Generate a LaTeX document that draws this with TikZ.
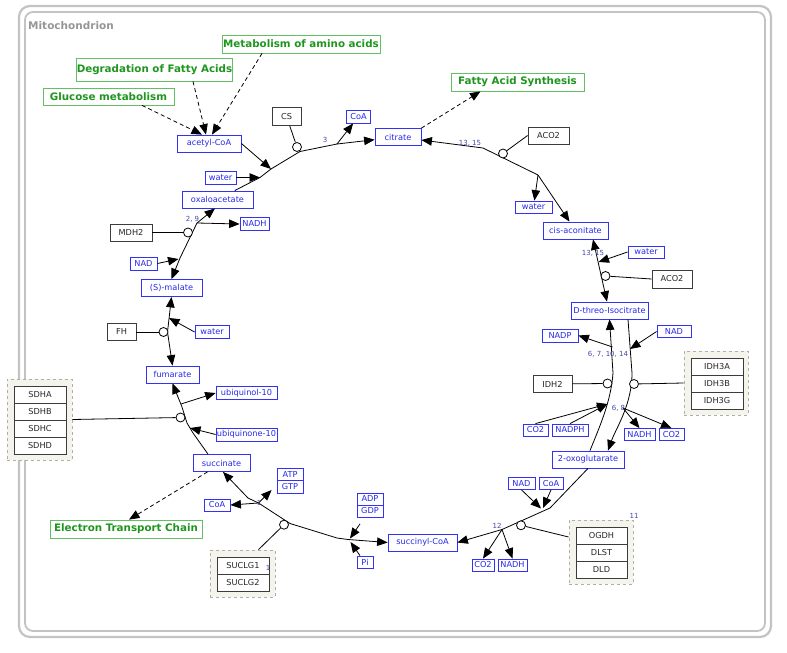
\documentclass[tikz,border=0pt]{standalone}
\usepackage{fontspec}
\setmainfont{DejaVu Sans}
\usetikzlibrary{arrows.meta}

\definecolor{metblue}{RGB}{40,40,235}
\definecolor{metborder}{RGB}{50,50,245}
\definecolor{genegray}{RGB}{60,60,60}
\definecolor{pwgreen}{RGB}{30,150,30}
\definecolor{pwborder}{RGB}{100,190,100}
\definecolor{grpfill}{RGB}{244,244,236}
\definecolor{grpborder}{RGB}{175,175,165}
\definecolor{framegray}{RGB}{195,195,195}
\definecolor{titlegray}{RGB}{150,150,150}
\definecolor{numblue}{RGB}{70,70,170}

\newcommand\lblfont{\fontsize{8.2}{9.5}\selectfont}
\newcommand\pwfont{\fontsize{10.3}{12}\selectfont\bfseries}
\newcommand\numfont{\fontsize{7}{8}\selectfont}

\tikzset{
  met/.style={draw=metborder, text=metblue, fill=white, inner sep=0pt, line width=0.8pt, font=\lblfont},
  gene/.style={draw=genegray, text=black!85, fill=white, inner sep=0pt, line width=0.8pt, font=\lblfont},
  pwbox/.style={draw=pwborder, text=pwgreen, fill=white, inner sep=0pt, line width=0.8pt, font=\pwfont},
  grp/.style={draw=grpborder, dashed, fill=grpfill, line width=0.8pt, inner sep=0pt},
  circ/.style={circle, draw, fill=white, inner sep=0pt, minimum size=9pt, line width=0.8pt},
  num/.style={text=numblue, font=\numfont, inner sep=0pt},
  conn/.style={line width=0.8pt, black},
  pwlink/.style={conn, dash pattern=on 4pt off 3pt},
}

\begin{document}
\begin{tikzpicture}[x=1pt, y=-1pt, >={Triangle[length=10.5pt,width=8.5pt]}]
\useasboundingbox (0,0) rectangle (787,653);

% compartment frame
\draw[framegray, line width=2.2pt, rounded corners=11pt] (19,6) rectangle (771,637);
\draw[framegray, line width=1.8pt, rounded corners=8pt] (25,12) rectangle (765,631);
\node[anchor=west, text=titlegray, font=\fontsize{10.5}{12}\selectfont\bfseries, inner sep=0pt] (title) at (28,25.5) {Mitochondrion};

% linked pathways
\node[pwbox, minimum width=158pt, minimum height=18pt] (amino) at (301,44) {Metabolism of amino acids};
\node[pwbox, minimum width=155pt, minimum height=23pt] (degr) at (154.5,69.5) {Degradation of Fatty Acids};
\node[pwbox, minimum width=131pt, minimum height=17pt] (glu) at (108.5,96.5) {Glucose metabolism};
\node[pwbox, minimum width=133pt, minimum height=18pt] (fas) at (517.5,82) {Fatty Acid Synthesis};
\node[pwbox, minimum width=152pt, minimum height=18pt] (etc) at (126,529) {Electron Transport Chain};

% metabolites
\node[met, minimum width=64pt, minimum height=17pt] (acoa) at (209,143.5) {acetyl-CoA};
\node[met, minimum width=24pt, minimum height=13pt] (coa1) at (358.5,116.5) {CoA};
\node[met, minimum width=46pt, minimum height=17pt] (cit) at (398,137) {citrate};
\node[met, minimum width=31pt, minimum height=13pt] (wat1) at (220.5,177.5) {water};
\node[met, minimum width=71pt, minimum height=17pt] (oaa) at (217.5,199.5) {oxaloacetate};
\node[met, minimum width=29pt, minimum height=13pt] (nadh1) at (254.5,224) {NADH};
\node[met, minimum width=27pt, minimum height=13pt] (nad1) at (143.5,263.5) {NAD};
\node[met, minimum width=61pt, minimum height=17pt] (mal) at (171.5,288) {(S)-malate};
\node[met, minimum width=34pt, minimum height=13pt] (wat2) at (212,332) {water};
\node[met, minimum width=53pt, minimum height=17pt] (fum) at (172.5,374.5) {fumarate};
\node[met, minimum width=61pt, minimum height=13pt] (ubol) at (246.5,393) {ubiquinol-10};
\node[met, minimum width=61pt, minimum height=13pt] (ubone) at (246.5,434.5) {ubiquinone-10};
\node[met, minimum width=57pt, minimum height=17pt] (succ) at (221.5,463) {succinate};
\node[met, minimum width=26pt, minimum height=12.5pt] (atp) at (290,474.5) {ATP};
\node[met, minimum width=26pt, minimum height=12.5pt] (gtp) at (290,487) {GTP};
\node[met, minimum width=26pt, minimum height=12pt] (coa2) at (217,505) {CoA};
\node[met, minimum width=26pt, minimum height=12pt] (adp) at (370,499) {ADP};
\node[met, minimum width=26pt, minimum height=12pt] (gdp) at (370,511) {GDP};
\node[met, minimum width=16pt, minimum height=12pt] (pi) at (365,562) {Pi};
\node[met, minimum width=69pt, minimum height=17pt] (sucoa) at (422.5,542.5) {succinyl-CoA};
\node[met, minimum width=22pt, minimum height=12pt] (co2d) at (483,565) {CO2};
\node[met, minimum width=29pt, minimum height=12pt] (nadh4) at (512.5,565) {NADH};
\node[met, minimum width=27pt, minimum height=12pt] (nad4) at (521.5,483.5) {NAD};
\node[met, minimum width=24pt, minimum height=12pt] (coa3) at (551,483.5) {CoA};
\node[met, minimum width=72pt, minimum height=17pt] (oxo) at (588,459.5) {2-oxoglutarate};
\node[met, minimum width=25pt, minimum height=12pt] (co2b) at (535.5,430) {CO2};
\node[met, minimum width=36pt, minimum height=12pt] (nadph) at (570,430) {NADPH};
\node[met, minimum width=31pt, minimum height=12pt] (nadh3) at (639.5,434.5) {NADH};
\node[met, minimum width=25pt, minimum height=12pt] (co2c) at (671.5,434.5) {CO2};
\node[met, minimum width=36pt, minimum height=13pt] (nadp) at (560,335.5) {NADP};
\node[met, minimum width=34pt, minimum height=12pt] (nad3) at (674,331.5) {NAD};
\node[met, minimum width=77pt, minimum height=17pt] (iso) at (609.5,310.5) {D-threo-Isocitrate};
\node[met, minimum width=36pt, minimum height=12pt] (wat3) at (646,252) {water};
\node[met, minimum width=65pt, minimum height=17pt] (cisa) at (575.5,230.5) {cis-aconitate};
\node[met, minimum width=37pt, minimum height=12pt] (wat4) at (533.5,207) {water};

% single gene products
\node[gene, minimum width=29pt, minimum height=18pt] (cs) at (286.5,116.5) {CS};
\node[gene, minimum width=41pt, minimum height=17pt] (aco2a) at (548.5,135.5) {ACO2};
\node[gene, minimum width=40pt, minimum height=18pt] (aco2b) at (672,279) {ACO2};
\node[gene, minimum width=42pt, minimum height=17pt] (mdh2) at (131,232.5) {MDH2};
\node[gene, minimum width=29pt, minimum height=17pt] (fh) at (121.5,332) {FH};
\node[gene, minimum width=39pt, minimum height=17pt] (idh2) at (552.5,384) {IDH2};

% enzyme complexes
\node[grp, minimum width=64pt, minimum height=64pt] (idhg) at (716,383) {};
\node[gene, minimum width=52pt, minimum height=17pt] (idh3a) at (717,367) {IDH3A};
\node[gene, minimum width=52pt, minimum height=17pt] (idh3b) at (717,384) {IDH3B};
\node[gene, minimum width=52pt, minimum height=17pt] (idh3g) at (717,401) {IDH3G};

\node[grp, minimum width=65pt, minimum height=81pt] (sdhg) at (39.5,419.5) {};
\node[gene, minimum width=52pt, minimum height=17pt] (sdha) at (40,394.5) {SDHA};
\node[gene, minimum width=52pt, minimum height=17pt] (sdhb) at (40,411.5) {SDHB};
\node[gene, minimum width=52pt, minimum height=17pt] (sdhc) at (40,428.5) {SDHC};
\node[gene, minimum width=52pt, minimum height=17pt] (sdhd) at (40,445.5) {SDHD};

\node[grp, minimum width=65pt, minimum height=47pt] (suclg) at (242.5,573.5) {};
\node[gene, minimum width=52pt, minimum height=17pt] (suclg1) at (243,565.5) {SUCLG1};
\node[gene, minimum width=52pt, minimum height=17pt] (suclg2) at (243,582.5) {SUCLG2};

\node[grp, minimum width=64pt, minimum height=64pt] (ogdhg) at (601,552) {};
\node[gene, minimum width=51pt, minimum height=17pt] (ogdh) at (601.5,535.5) {OGDH};
\node[gene, minimum width=51pt, minimum height=17pt] (dlst) at (601.5,552.5) {DLST};
\node[gene, minimum width=51pt, minimum height=17pt] (dld) at (601.5,569.5) {DLD};

% ---- citrate synthase
\coordinate (csw) at (260,177.5);
\coordinate (csa) at (271,169);
\coordinate (csc) at (300,151.5);
\coordinate (csb) at (337,144);
\draw[conn] (oaa) -- (csw) -- (csa) -- (csc) -- (csb);
\draw[conn,->] (csb) -- (cit);
\draw[conn,->] (csb) -- (coa1);
\draw[conn,->] (acoa.east) -- (csa);
\draw[conn,->] (wat1) -- (csw);
\node[circ] (csn) at (297,147) {};
\draw[conn] (cs) -- (csn);
\node[num] (l3) at (325,140) {3};

% ---- aconitase: citrate to cis-aconitate
\coordinate (aab) at (483,148);
\coordinate (aad) at (538,175);
\draw[conn,->] (aad) -- (aab) -- (cit);
\draw[conn,->] (aad) -- (wat4);
\draw[conn,->] (aad) -- (cisa);
\node[circ] (acc1) at (503,153.5) {};
\draw[conn] (aco2a.west) -- (acc1);
\node[num] (l1315a) at (470,143) {13, 15};

% ---- aconitase: cis-aconitate to isocitrate
\draw[conn,<->] ([xshift=17.5pt]cisa.south) -- ([xshift=-2.5pt]iso.north);
\coordinate (aw) at (598.5,262);
\draw[conn,->] (wat3.west) -- (aw);
\node[circ] (acc2) at (605.5,276) {};
\draw[conn] (aco2b.west) -- (acc2);
\node[num] (l1315b) at (593,253) {13, 15};

% ---- isocitrate dehydrogenase, NADP (IDH2)
\draw[conn,->] ([xshift=2pt]oxo.north) .. controls (599,428) and (611,402) .. (613,373) -- (iso.south);
\node[circ] (idc2) at (607.5,383.5) {};
\draw[conn] (idh2) -- (idc2);
\coordinate (inp) at (612.5,347);
\draw[conn,->] (inp) -- (nadp.east);
\coordinate (ico) at (607.5,404);
\draw[conn,->] (co2b.north) -- (ico);
\draw[conn,->] (nadph.north) -- (ico);
\node[num] (l671014) at (608,354.5) {6, 7, 10, 14};

% ---- isocitrate dehydrogenase, NAD (IDH3)
\draw[conn,->] ([xshift=18.5pt]iso.south) -- (632,373) .. controls (632,405) and (616,428) .. ([xshift=20pt]oxo.north);
\node[circ] (idc3) at (634,384) {};
\draw[conn] (idhg.west) -- (idc3);
\coordinate (ina) at (630,349);
\draw[conn,->] (nad3.west) -- (ina);
\coordinate (inh) at (623,408);
\draw[conn,->] (inh) -- (nadh3.north);
\draw[conn,->] (inh) -- (co2c.north);
\node[num] (l68) at (618.5,408) {6, 8};

% ---- 2-oxoglutarate dehydrogenase complex
\coordinate (og1) at (550,508);
\coordinate (og2) at (502,529.5);
\draw[conn] (oxo.south) -- (og1) -- (og2);
\draw[conn,->] (og2) -- (sucoa.east);
\coordinate (ogn) at (541,508.5);
\coordinate (ogc) at (543,508);
\draw[conn,->] (nad4.south) -- (ogn);
\draw[conn,->] (coa3.south) -- (ogc);
\draw[conn,->] (og2) -- (co2d.north);
\draw[conn,->] (og2) -- (nadh4.north);
\node[circ] (ogcc) at (521,525.3) {};
\draw[conn] ([yshift=15pt]ogdhg.west) -- (ogcc);
\node[num] (l12) at (497,525.5) {12};
\node[num] (l11) at (634,515.5) {11};

% ---- succinyl-CoA synthetase
\coordinate (sa) at (348,539.5);
\coordinate (sb) at (337,538);
\coordinate (sc) at (290,523.5);
\coordinate (sd) at (258.5,503);
\coordinate (se) at (248,498);
\draw[conn,->] (sa) -- (sucoa.west);
\draw[conn,->] (sa) -- (sb) -- (sc) -- (sd) -- (se) -- ([xshift=1.5pt]succ.south);
\node[circ] (scc) at (284,524.7) {};
\draw[conn] ([xshift=16pt]suclg.north) -- (scc);
\coordinate (sadp) at (350,538.5);
\coordinate (spi) at (350.5,542);
\draw[conn,->] ([xshift=-10pt,yshift=-6.5pt]gdp.south) -- (sadp);
\draw[conn,->] ([xshift=-5pt]pi.north) -- (spi);
\draw[conn,->] (sd) -- ([xshift=-5pt,yshift=-3pt]gtp.west);
\draw[conn,->] (sd) -- (coa2.east);
\node[num] (l1a) at (259,502.5) {1};
\node[num] (l1b) at (268,568) {1};

% ---- succinate dehydrogenase
\coordinate (sda) at (193,433);
\coordinate (sdb) at (187,423);
\coordinate (sdc) at (182,407);
\draw[conn,->] ([xshift=-13.5pt]succ.north) -- (sda) -- (sdb) -- (sdc) -- (fum.south);
\node[circ] (sdcc) at (180.5,417.5) {};
\draw[conn] (sdhg.east) -- (sdcc);
\coordinate (sdq) at (181,404);
\draw[conn,->] (sdq) -- (ubol.west);
\coordinate (sdu) at (190,428);
\draw[conn,->] (ubone.west) -- (sdu);

% ---- fumarase
\coordinate (fhj) at (167.5,332);
\draw[conn,<->] (fum.north) -- (fhj) -- (mal.south);
\node[circ] (fhc) at (163.5,332) {};
\draw[conn] (fh) -- (fhc);
\coordinate (fhw) at (169,318);
\draw[conn,->] (wat2.west) -- (fhw);

% ---- malate dehydrogenase
\coordinate (mda) at (180,258);
\coordinate (mdb) at (197,223);
\draw[conn,<->] (mal.north) -- (mda) -- (mdb) -- ([xshift=-2.5pt]oaa.south);
\node[circ] (mdc) at (188,232.5) {};
\draw[conn] (mdh2) -- (mdc);
\draw[conn,->] (mdb) -- (nadh1.west);
\coordinate (mdn) at (178.5,259);
\draw[conn,->] (nad1.east) -- (mdn);
\node[num] (l29) at (192.5,219) {2, 9};

% ---- links to other pathways
\draw[pwlink,->] ([xshift=33.5pt]glu.south) -- ([xshift=-7pt]acoa.north);
\draw[pwlink,->] ([xshift=38.5pt]degr.south) -- ([xshift=-3pt]acoa.north);
\draw[pwlink,->] ([xshift=-39pt]amino.south) -- ([xshift=3pt]acoa.north);
\draw[pwlink,->] (cit.north east) -- ([xshift=-37pt]fas.south);
\draw[pwlink,->] ([xshift=-14pt]succ.south) -- ([xshift=3pt]etc.north);
\end{tikzpicture}
\end{document}
